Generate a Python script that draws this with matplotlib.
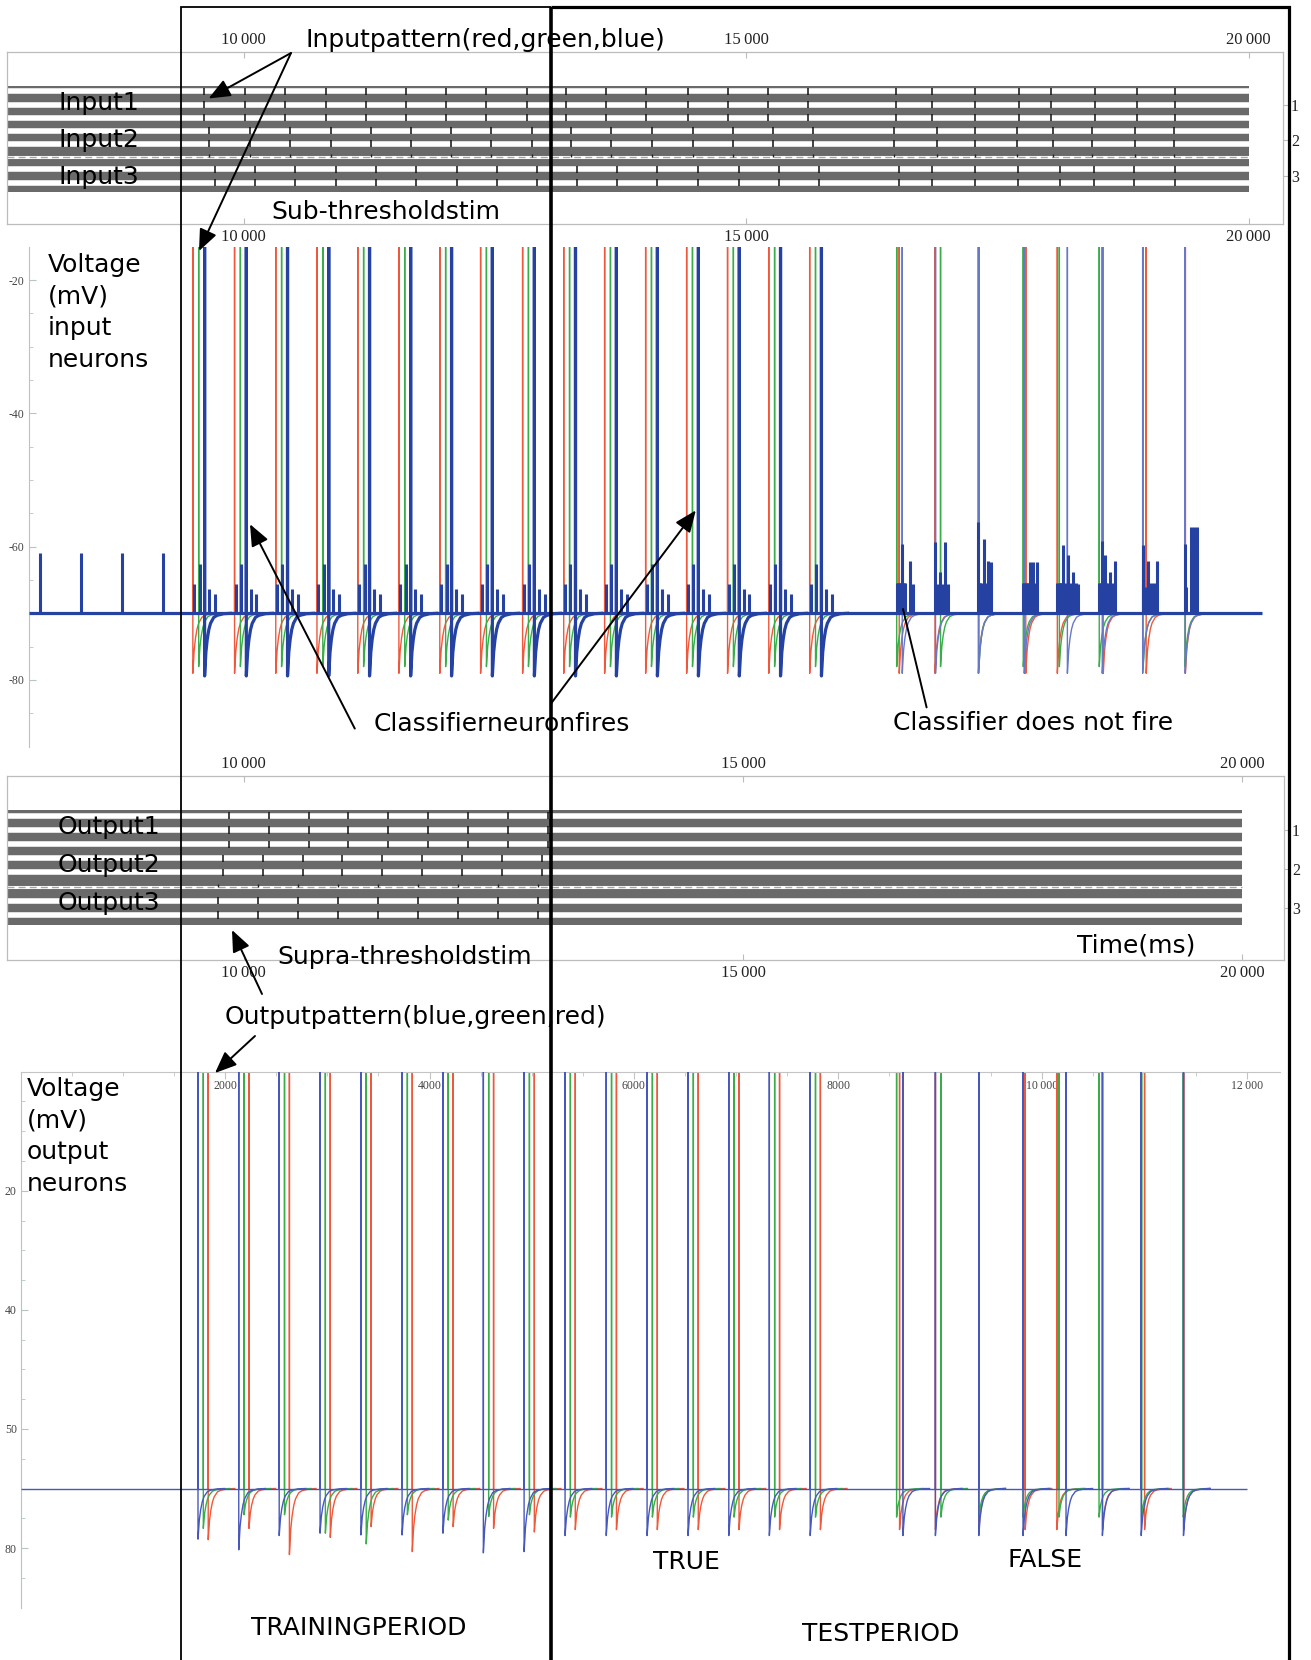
import numpy as np
import matplotlib.pyplot as plt
from matplotlib.lines import Line2D
from matplotlib.patches import FancyArrowPatch

plt.rcParams['font.family'] = ['DejaVu Sans']

W, H = 1311, 1660
SERIF = ['Liberation Serif', 'DejaVu Serif']
REST = -70.0

GRAY = '#6a6a6a'
FRAME = '#bcbcbc'
RED = '#ef583a'
GREEN = '#38ad48'
BLUE_THIN = '#6878c8'
BLUE_THICK = '#2542a2'
OUT_BLUE = '#4658bd'

# ---------------- input raster (sub-threshold stim), ms
in1_stim = [9610, 10010, 10410, 10815, 11215, 11615, 12015, 12415, 12815, 13210, 13605, 14005,
            14420, 14820, 15220, 15615, 16495, 16845, 17275, 17713, 18030, 18470, 18890, 19265]
in2_stim = [9660, 10060, 10465, 10865, 11265, 11665, 12065, 12465, 12870, 13260, 13660, 14060,
            14470, 14870, 15270, 15670, 16470, 16895, 17280, 17690, 18050, 18440, 18865, 19260]
in3_stim = [9715, 10110, 10515, 10915, 11315, 11715, 12120, 12520, 12920, 13315, 13715, 14115,
            14525, 14925, 15325, 15725, 16520, 16850, 17278, 17700, 18120, 18465, 18860, 19262]

# ---------------- output raster (supra-threshold stim), training only
out1_stim = [9850, 10250, 10650, 11050, 11450, 11850, 12250, 12650, 13050]
out2_stim = [9790, 10190, 10590, 10990, 11390, 11790, 12190, 12590, 12990]
out3_stim = [9745, 10145, 10545, 10945, 11345, 11745, 12145, 12545, 12945]

# raster lanes (row units, 1..3 = neuron labels)
lane_y = [0.625, 0.995, 1.36, 1.73, 2.09, 2.46, 2.82, 3.19]
in_lane_row = [0, 0, 0, 1, 1, 1, 2, 2]
out_lane_row = [0, 0, 0, 1, 1, 2, 2, 2]
DASHED = 5
band_lo, band_hi = 0.465, 3.46

# ---------------- input neurons voltage (ms, mV)
in_red_t = [9495, 9910, 10320, 10730, 11136, 11545, 11952, 12358, 12776, 13185, 13592, 14000,
            14408, 14815, 15225, 15632, 16523, 16879, 17310, 17782, 18096, 18553, 18980, 19370]
in_green_t = [9553, 9968, 10378, 10788, 11194, 11603, 12010, 12416, 12834, 13243, 13650, 14058,
              14466, 14873, 15283, 15690, 16498, 16934, 17316, 17757, 18116, 18513, 18950, 19366]
in_blue_t = [9612, 10027, 10437, 10847, 11253, 11662, 12069, 12475, 12893, 13302, 13709, 14117,
             14525, 14932, 15342, 15749, 16553, 16884, 17313, 17767, 18196, 18543, 18945, 19368]
in_red_min, in_green_min, in_blue_min = -79.0, -78.0, -79.0

# classifier neuron (thick blue)
cls_spike_t = in_blue_t[:16]
cls_min = -79.4
pre_epsp_t = [7974, 8380, 8791, 9201]
pre_epsp_mv = -61.0
epsp_dt = [13, 67, 163, 218]          # after the red input, training / TRUE
epsp_mv = [-65.6, -62.6, -66.4, -67.1]
false_t0 = [16498, 16879, 17310, 17757, 18096, 18513, 18945, 19366]
burst_dt = [
    [0, 10, 20, 30, 40, 50, 60, 70, 80, 133, 166],
    [0, 10, 25, 45, 75, 95, 125],
    [0, 10, 20, 30, 55, 70, 96, 126],
    [0, 12, 24, 36, 48, 66, 80, 100, 112, 133],
    [0, 12, 24, 36, 48, 60, 84, 109, 130, 159, 190, 209],
    [0, 12, 23, 36, 56, 70, 90, 106, 130, 156],
    [0, 7, 20, 50, 83, 113, 139],
    [0, 15, 63, 92, 122],
]
burst_mv = [
    [-65.5, -65.5, -65.5, -65.5, -65.5, -59.6, -65.5, -65.5, -65.5, -62.1, -65.6],
    [-59.3, -66.0, -65.6, -63.8, -65.6, -59.3, -65.6],
    [-56.3, -65.5, -65.5, -65.5, -58.8, -65.5, -62.1, -62.3],
    [-65.5, -65.5, -65.5, -65.5, -65.5, -62.3, -65.5, -62.3, -65.5, -62.3],
    [-65.5, -65.5, -65.5, -65.5, -65.5, -59.8, -65.5, -61.3, -65.5, -63.8, -65.5, -65.6],
    [-65.5, -65.5, -59.1, -65.5, -61.3, -65.5, -65.5, -63.8, -65.5, -62.1],
    [-65.5, -59.8, -66.0, -62.1, -65.5, -65.5, -62.1],
    [-59.6, -66.0, -57.1, -57.1, -57.1],
]

# ---------------- output neurons voltage (ms, mV)
out_blue_t = [1733, 2132, 2528, 2928, 3328, 3731, 4131, 4527, 4926, 5327, 5730, 6130,
              6531, 6930, 7327, 7727, 8635, 8953, 9378, 9811, 10232, 10588, 10968, 11382]
out_green_t = [1785, 2184, 2580, 2980, 3380, 3783, 4183, 4579, 4978, 5379, 5782, 6182,
               6583, 6982, 7379, 7779, 8573, 9007, 9380, 9811, 10163, 10555, 10972, 11380]
out_red_t = [1833, 2232, 2628, 3028, 3428, 3831, 4231, 4627, 5026, 5427, 5830, 6230,
             6631, 7030, 7427, 7827, 8602, 8953, 9378, 9832, 10142, 10590, 11001, 11384]
out_blue_min = [-78.5, -80.3, -77.9, -77.5, -77.8, -77.8, -77.5, -80.8, -80.6, -77.9, -77.9, -77.9,
                -77.9, -77.9, -77.9, -77.9, -77.9, -77.9, -77.9, -77.9, -77.9, -77.9, -77.9, -77.9]
out_green_min = [-76.7, -74.4, -74.4, -77.5, -79.3, -74.4, -75.3, -74.7, -74.4, -74.8, -74.8, -74.8,
                 -74.8, -74.8, -74.8, -74.8, -74.8, -74.8, -74.8, -74.8, -74.8, -74.8, -74.8, -74.8]
out_red_min = [-78.6, -76.7, -81.1, -78.2, -76.4, -80.6, -76.4, -76.7, -77.3, -76.9, -76.9, -76.9,
               -76.9, -76.9, -76.9, -76.9, -76.9, -76.9, -76.9, -76.9, -76.9, -76.9, -76.9, -76.9]

# after-hyperpolarisation shape (ms after spike, fraction of depth)
ahp_dt = np.array([0, 13, 26, 42, 59, 91, 124, 189, 260])
ahp_frac = np.array([1.0, 0.62, 0.42, 0.26, 0.16, 0.065, 0.033, 0.007, 0.0])

fig = plt.figure(figsize=(W / 100, H / 100), dpi=100)


def lin(px, p0, v0, p1, v1):
    # pixel -> data value from two reference ticks
    return v0 + (px - p0) * (v1 - v0) / (p1 - p0)


def add_ax(x0, y0, x1, y1):
    ax = fig.add_axes([x0 / W, 1 - y1 / H, (x1 - x0) / W, (y1 - y0) / H])
    ax.patch.set_alpha(0)
    return ax


def draw_raster(ax, rows, lane_row, t_left):
    ax.fill_between([t_left, 20000], band_lo, band_hi, color=GRAY, lw=0)
    for i, y in enumerate(lane_y):
        times = rows[lane_row[i]]
        if i == DASHED:
            ax.hlines(y, t_left, 20000, color='white', lw=2.2)
            ax.hlines(y, t_left, 20000, color='#a4a4a4', lw=1.0, linestyles=(0, (5, 3)))
            ax.vlines(times, y - 0.07, y + 0.02, color='#222222', lw=1.0)
        else:
            ax.hlines(y, t_left, 20000, color='white', lw=4.0)
            ax.vlines(times, y - 0.095, y + 0.095, color='#111111', lw=1.1)


def style_raster(ax):
    for s in ax.spines.values():
        s.set_color(FRAME)
        s.set_linewidth(0.9)
    ax.set_xticks([10000, 15000, 20000], ['10\u2009000', '15\u2009000', '20\u2009000'])
    ax.tick_params(axis='x', top=True, bottom=True, labeltop=True, labelbottom=True,
                   direction='in', length=4, color=FRAME, labelsize=12, pad=3,
                   labelcolor='#222222', labelfontfamily=SERIF)
    ax.yaxis.tick_right()
    ax.set_yticks([1, 2, 3], ['1', '2', '3'])
    ax.tick_params(axis='y', direction='out', length=4, color=FRAME, labelsize=11.5,
                   pad=2, labelcolor='#222222', labelfontfamily=SERIF)


def draw_spike(ax, t, vmin, top, color, lw, z):
    xs = t + ahp_dt
    ys = REST + (vmin - REST) * ahp_frac
    ax.plot(np.r_[t, t, xs], np.r_[REST, top, ys], color=color, lw=lw, zorder=z)


# ---------------- panel 1: input raster
ax1 = add_ax(7, 51.9, 1282.5, 224.5)
t_l1 = lin(7, 243.6, 10000, 1248.7, 20000)
ax1.set_xlim(t_l1, lin(1282.5, 243.6, 10000, 1248.7, 20000))
ax1.set_ylim(4.37, -0.49)
draw_raster(ax1, [in1_stim, in2_stim, in3_stim], in_lane_row, t_l1)
style_raster(ax1)

# ---------------- panel 2: input neurons voltage
ax2 = add_ax(28.6, 246.7, 1280, 746.6)
t_l2 = lin(28.6, 243.6, 10000, 1248.7, 20000)
ax2.set_xlim(t_l2, lin(1280, 243.6, 10000, 1248.7, 20000))
ax2.set_ylim(-90, -15)
for side in ['top', 'right', 'bottom']:
    ax2.spines[side].set_visible(False)
ax2.spines['left'].set_color('#b7c5bf')
ax2.set_xticks([])
ax2.set_yticks([-80, -60, -40, -20], ['-80', '-60', '-40', '-20'])
ax2.set_yticks(np.arange(-85, -15, 5), minor=True)
ax2.tick_params(axis='y', which='both', direction='in', color='#b7c5bf', labelsize=8.5,
                labelcolor='#444444', pad=3, labelfontfamily=SERIF)
ax2.tick_params(axis='y', which='major', length=5)
ax2.tick_params(axis='y', which='minor', length=3)

for t in in_red_t:
    draw_spike(ax2, t, in_red_min, 0, RED, 1.0, 2)
for t in in_green_t:
    draw_spike(ax2, t, in_green_min, 0, GREEN, 1.0, 2)
for t in in_blue_t:
    draw_spike(ax2, t, in_blue_min, 0, BLUE_THIN, 1.0, 2)

ax2.hlines(REST, t_l2, 20135, color=BLUE_THICK, lw=2.3, zorder=4)
ax2.vlines(pre_epsp_t, REST, pre_epsp_mv, color=BLUE_THICK, lw=2.2, zorder=4)
for t in in_red_t[:16]:
    ax2.vlines(np.add(t, epsp_dt), REST, epsp_mv, color=BLUE_THICK, lw=2.2, zorder=4)
for t0, dts, mvs in zip(false_t0, burst_dt, burst_mv):
    ax2.vlines(np.add(t0, dts), REST, mvs, color=BLUE_THICK, lw=2.2, zorder=4)
for t in cls_spike_t:
    draw_spike(ax2, t, cls_min, 0, BLUE_THICK, 2.3, 4)

# ---------------- panel 3: output raster
ax3 = add_ax(7, 776, 1283.6, 960.5)
t_l3 = lin(7, 243.6, 10000, 1242.3, 20000)
ax3.set_xlim(t_l3, lin(1283.6, 243.6, 10000, 1242.3, 20000))
ax3.set_ylim(4.37, -0.405)
draw_raster(ax3, [out1_stim, out2_stim, out3_stim], out_lane_row, t_l3)
style_raster(ax3)

# ---------------- panel 4: output neurons voltage
ax4 = add_ax(21, 1071.7, 1280, 1607.6)
ax4.set_xlim(0, lin(1280, 225.2, 2000, 1246.6, 12000))
ax4.set_ylim(-90, 0)
ax4.spines['bottom'].set_position(('data', 0))
for side in ['top', 'right']:
    ax4.spines[side].set_visible(False)
ax4.spines['bottom'].set_color('#c4c4c4')
ax4.spines['left'].set_color('#b7c5bf')
ax4.set_xticks([2000, 4000, 6000, 8000, 10000, 12000],
               ['2000', '4000', '6000', '8000', '10\u2009000', '12\u2009000'])
ax4.set_xticks(np.arange(500, 12500, 500), minor=True)
ax4.tick_params(axis='x', which='both', direction='out', color='#c4c4c4', labelsize=8.5,
                labelcolor='#444444', pad=1, labelfontfamily=SERIF)
ax4.tick_params(axis='x', which='major', length=5)
ax4.tick_params(axis='x', which='minor', length=3)
ax4.set_yticks([-80, -60, -40, -20], ['80', '50', '40', '20'])
ax4.set_yticks(np.arange(-85, 0, 5), minor=True)
ax4.tick_params(axis='y', which='both', direction='in', color='#b7c5bf', labelsize=8.5,
                labelcolor='#444444', pad=3, labelfontfamily=SERIF)
ax4.tick_params(axis='y', which='major', length=5)
ax4.tick_params(axis='y', which='minor', length=3)

for t, m in zip(out_red_t, out_red_min):
    draw_spike(ax4, t, m, 20, RED, 1.0, 2)
for t, m in zip(out_green_t, out_green_min):
    draw_spike(ax4, t, m, 20, GREEN, 1.0, 2)
for t, m in zip(out_blue_t, out_blue_min):
    draw_spike(ax4, t, m, 20, OUT_BLUE, 1.0, 3)
ax4.hlines(REST, 0, 12000, color=OUT_BLUE, lw=1.0, zorder=3)


# ---------------- annotations (figure pixels, origin top-left)
def ftext(x, y, s, size=18):
    fig.text(x / W, 1 - y / H, s, fontsize=size, ha='left', va='center', color='black')


def farrow(x0, y0, x1, y1, head=True):
    style = '-|>,head_length=0.6,head_width=0.25' if head else '-'
    fig.add_artist(FancyArrowPatch((x0 / W, 1 - y0 / H), (x1 / W, 1 - y1 / H),
                                   transform=fig.transFigure, arrowstyle=style,
                                   mutation_scale=22, lw=1.4, color='black',
                                   shrinkA=0, shrinkB=0, zorder=6))


def fline(xs, ys, lw):
    fig.add_artist(Line2D([x / W for x in xs], [1 - y / H for y in ys],
                          transform=fig.transFigure, color='black', lw=lw,
                          solid_capstyle='butt', solid_joinstyle='miter', zorder=5))


ftext(306, 40, 'Inputpattern(red,green,blue)')
for i, s in enumerate(['Input1', 'Input2', 'Input3']):
    ftext(58, 102.7 + 37.1 * i, s)
ftext(271, 212, 'Sub-thresholdstim')
for i, s in enumerate(['Voltage', '(mV)', 'input', 'neurons']):
    ftext(47.7, 264.7 + 31.8 * i, s)
ftext(374, 724.4, 'Classifierneuronfires')
ftext(893, 723.3, 'Classifier does not fire')
for i, s in enumerate(['Output1', 'Output2', 'Output3']):
    ftext(58, 827 + 38 * i, s)
ftext(1077, 945.7, 'Time(ms)')
ftext(277.5, 957, 'Supra-thresholdstim')
ftext(224.5, 1016.6, 'Outputpattern(blue,green,red)')
for i, s in enumerate(['Voltage', '(mV)', 'output', 'neurons']):
    ftext(26.5, 1088.6 + 31.8 * i, s)
ftext(653, 1562, 'TRUE')
ftext(1007, 1560, 'FALSE')
ftext(251, 1627.6, 'TRAININGPERIOD')
ftext(801.6, 1634, 'TESTPERIOD')

farrow(291, 53, 208.6, 98.5)
farrow(291, 53, 199, 251)
farrow(354.8, 728.6, 250, 524.2)
farrow(550.7, 704, 695.8, 510.4)
farrow(926.6, 707.4, 903, 609, head=False)
farrow(262, 994, 232, 930)
farrow(255, 1036, 215, 1073)

# training / test period boxes
fline([181, 181, 550.7], [H, 7.4, 7.4], 1.3)
fline([550.7, 550.7], [7.4, H], 2.6)
fline([550.7, 1289, 1289], [7.4, 7.4, H], 2.3)

fig.savefig('out.png', dpi=100)
